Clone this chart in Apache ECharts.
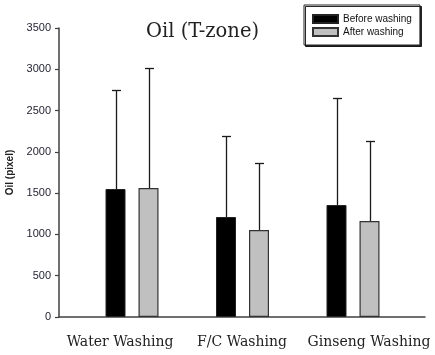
<!DOCTYPE html>
<html><head><meta charset="utf-8">
<script src="https://cdn.jsdelivr.net/npm/echarts@6/dist/echarts.min.js"></script>
<style>html,body{margin:0;padding:0;background:#fff}#c{width:435px;height:355px}</style>
</head><body><div id="c"></div>
<script>
const categories = ['Water Washing', 'F/C Washing', 'Ginseng Washing'];
const seriesNames = ['Before washing', 'After washing'];
const beforeMean = [1550, 1211, 1356];
const afterMean = [1562, 1054, 1163];
const beforeSD = [1199, 981, 1296];
const afterSD = [1454, 811, 968];
const yMin = 0, yMax = 3500, yStep = 500;

const BAR_W = 20, BAR_GAP = 0.65;
const OFF = (BAR_W + BAR_W * BAR_GAP) / 2;

const chart = echarts.init(document.getElementById('c'), null, {renderer: 'canvas'});

function errSeries(name, means, sds, offset) {
  return {
    type: 'custom', name: name + ' error', xAxisIndex: 1, yAxisIndex: 1, z: 1,
    silent: true,
    data: means.map((m, i) => [i, m, m + sds[i]]),
    renderItem(params, api) {
      const base = api.coord([api.value(0), api.value(1)]);
      const top = api.coord([api.value(0), api.value(2)]);
      const x = Math.round(base[0] + offset) + 0.5;
      const yt = Math.round(top[1]) + 0.5;
      const st = {stroke: '#1a1a1a', lineWidth: 1.3};
      return {type: 'group', children: [
        {type: 'line', shape: {x1: x, y1: base[1], x2: x, y2: yt}, style: st},
        {type: 'line', shape: {x1: x - 4.5, y1: yt, x2: x + 4.5, y2: yt}, style: st}
      ]};
    }
  };
}

const axisLine = {show: true, lineStyle: {color: '#404040', width: 1.5}};

chart.setOption({
  animation: false,
  backgroundColor: '#fff',
  title: {
    text: 'Oil (T-zone)', left: 141, top: 17,
    textStyle: {fontFamily: 'DejaVu Serif', fontSize: 19.5, fontWeight: 'normal', color: '#222'}
  },
  legend: {
    data: seriesNames, orient: 'vertical', left: 304, top: 5,
    itemWidth: 25, itemHeight: 8, itemGap: 3, icon: 'rect',
    padding: [9, 8, 8, 8],
    borderColor: '#222', borderWidth: 1, backgroundColor: '#fff',
    shadowColor: 'rgba(0,0,0,0.85)', shadowOffsetX: 1.5, shadowOffsetY: 1.5, shadowBlur: 0,
    textStyle: {fontFamily: 'Liberation Sans', fontSize: 10, color: '#111'}
  },
  grid: [
    {left: 59, right: 10, top: 28, bottom: 38, outerBoundsMode: 'none', containLabel: false},
    {left: 76.75, right: 26.75, top: 28, bottom: 38, outerBoundsMode: 'none', containLabel: false}
  ],
  xAxis: [
    {
      type: 'category', gridIndex: 0, data: categories, boundaryGap: true,
      axisLine: axisLine, axisTick: {show: false}, splitLine: {show: false},
      axisLabel: {
        interval: 0, hideOverlap: false,
        margin: 18.5, fontFamily: 'DejaVu Serif', fontSize: 14, color: '#222',
        formatter: (v, i) => i === 2 ? '{s|' + v + '}' : v,
        rich: {s: {fontFamily: 'DejaVu Serif', fontSize: 14, color: '#222', padding: [0, 0, 0, 10]}}
      }
    },
    {type: 'category', gridIndex: 1, data: categories, boundaryGap: true, show: false}
  ],
  yAxis: [
    {
      type: 'value', gridIndex: 0, min: yMin, max: yMax, interval: yStep,
      name: 'Oil (pixel)', nameLocation: 'middle', nameGap: 43,
      nameTextStyle: {fontFamily: 'Liberation Sans', fontSize: 10, fontWeight: 'bold', color: '#222'},
      axisLine: axisLine,
      axisTick: {show: true, length: 4, lineStyle: {color: '#404040', width: 1.2}},
      splitLine: {show: false},
      axisLabel: {margin: 8, fontFamily: 'Liberation Sans', fontSize: 11, color: '#1f1f2f',
        formatter: v => String(v)}
    },
    {type: 'value', gridIndex: 1, min: yMin, max: yMax, interval: yStep, show: false, splitLine: {show: false}}
  ],
  series: [
    {
      type: 'bar', name: seriesNames[0], xAxisIndex: 1, yAxisIndex: 1, z: 3,
      barWidth: BAR_W, barGap: (BAR_GAP * 100) + '%', data: beforeMean,
      itemStyle: {color: '#000', borderColor: '#222', borderWidth: 1}
    },
    {
      type: 'bar', name: seriesNames[1], xAxisIndex: 1, yAxisIndex: 1, z: 3,
      barWidth: BAR_W, barGap: (BAR_GAP * 100) + '%', data: afterMean,
      itemStyle: {color: '#c0c0c0', borderColor: '#333', borderWidth: 1.2}
    },
    errSeries(seriesNames[0], beforeMean, beforeSD, -OFF),
    errSeries(seriesNames[1], afterMean, afterSD, OFF)
  ]
});
</script>
</body></html>
